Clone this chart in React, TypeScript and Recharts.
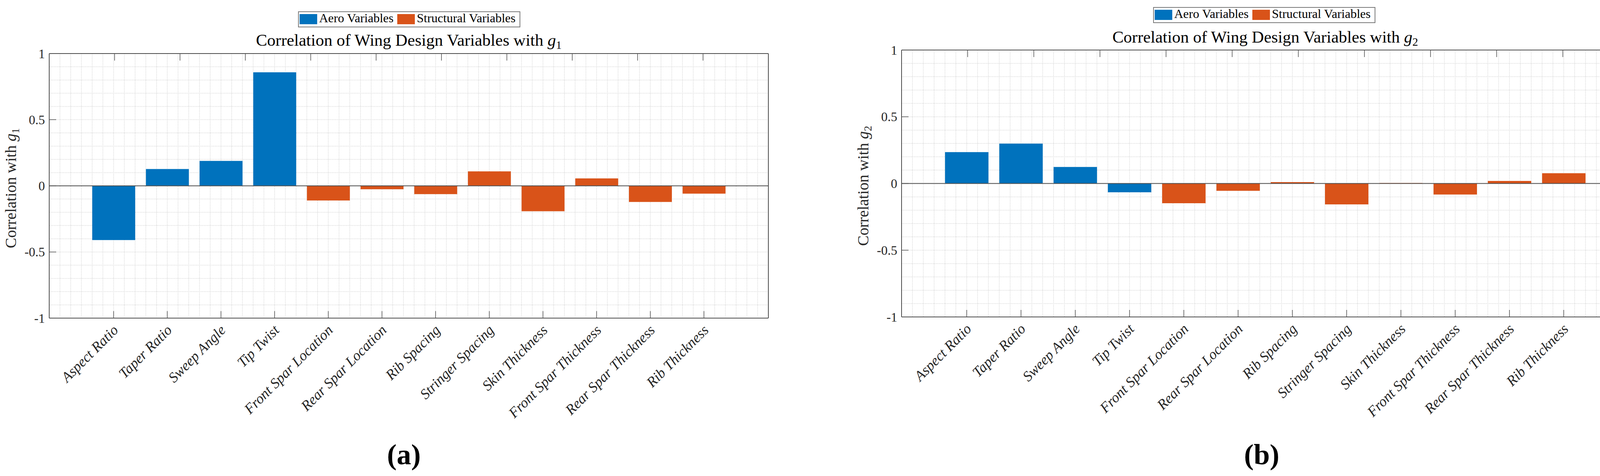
import React from 'react';
import { BarChart, Bar, Cell, XAxis, YAxis, CartesianGrid, ReferenceLine, Label } from 'recharts';

const W = 4187;
const H = 1218;
const AXIS = '#4d4d4d';
const GRID = '#d4d4d4';
const TEXT = '#262626';
const BLUE = '#0072BD';
const ORANGE = '#D95319';
const FONT = '"Liberation Serif", "Times New Roman", serif';

const X_MIN = -0.2;
const X_MAX = 13.2;
const TICK_LEN = 18;

// data
const categories = [
  'Aspect Ratio',
  'Taper Ratio',
  'Sweep Angle',
  'Tip Twist',
  'Front Spar Location',
  'Rear Spar Location',
  'Rib Spacing',
  'Stringer Spacing',
  'Skin Thickness',
  'Front Spar Thickness',
  'Rear Spar Thickness',
  'Rib Thickness',
];
const isAero = [true, true, true, true, false, false, false, false, false, false, false, false];
const corrG1 = [-0.41, 0.127, 0.188, 0.858, -0.111, -0.026, -0.063, 0.109, -0.192, 0.056, -0.122, -0.059];
const corrG2 = [0.235, 0.299, 0.124, -0.066, -0.148, -0.055, 0.01, -0.157, 0.004, -0.083, 0.019, 0.077];
const yTicks = [-1, -0.5, 0, 0.5, 1];
const legendLabels = ['Aero Variables', 'Structural Variables'];
const legendColors = [BLUE, ORANGE];

const xPositions = categories.map((_, i) => i + 1);

// minor grid every 0.2 in x, 0.1 in y
const gridX: number[] = [];
for (let k = 0; k <= 66; k++) gridX.push(Math.round(k * 2) / 10);
const gridY: number[] = [];
for (let k = -10; k <= 10; k++) gridY.push(k / 10);

type PanelSpec = {
  left: number;
  width: number;
  plotLeft: number;
  plotTop: number;
  plotRight: number;
  plotBottom: number;
  sub: string;
  values: number[];
  titleY: number;
  legendX: number;
  legendY: number;
  tag: string;
  tagX: number;
};

const panels: PanelSpec[] = [
  {
    left: 0, width: 2093, plotLeft: 126, plotTop: 137, plotRight: 1967, plotBottom: 814,
    sub: '1', values: corrG1, titleY: 117, legendX: 764, legendY: 30, tag: 'a', tagX: 1034,
  },
  {
    left: 2093, width: 2094, plotLeft: 2308, plotTop: 128, plotRight: 4170, plotBottom: 811,
    sub: '2', values: corrG2, titleY: 109, legendX: 2953, legendY: 19, tag: 'b', tagX: 3230,
  },
];

const BottomTick = (p: any) => {
  const { x, y, payload } = p;
  const name = categories[Math.round(payload.value) - 1];
  return (
    <g>
      <line x1={x} y1={y} x2={x} y2={y - TICK_LEN} stroke={AXIS} strokeWidth={1.5} />
      <text
        transform={`translate(${x + 14},${y + 33}) rotate(-45)`}
        textAnchor="end"
        fontFamily={FONT}
        fontStyle="italic"
        fontSize={37}
        fill={TEXT}
      >
        {name}
      </text>
    </g>
  );
};

const TopTick = (p: any) => {
  const { x, y } = p;
  return <line x1={x} y1={y} x2={x} y2={y + TICK_LEN} stroke={AXIS} strokeWidth={1.5} />;
};

const LeftTick = (p: any) => {
  const { x, y, payload } = p;
  return (
    <g>
      <line x1={x} y1={y} x2={x + TICK_LEN} y2={y} stroke={AXIS} strokeWidth={1.5} />
      <text x={x - 11} y={y} dy="0.35em" textAnchor="end" fontFamily={FONT} fontSize={33} fill={TEXT}>
        {String(payload.value)}
      </text>
    </g>
  );
};

const RightTick = (p: any) => {
  const { x, y } = p;
  return <line x1={x} y1={y} x2={x - TICK_LEN} y2={y} stroke={AXIS} strokeWidth={1.5} />;
};

const YLabel = ({ viewBox, sub }: any) => {
  const { x, y, width, height } = viewBox;
  const bx = x + width - 85;
  const cy = y + height / 2 + 6;
  return (
    <text
      transform={`translate(${bx},${cy}) rotate(-90)`}
      textAnchor="middle"
      fontFamily={FONT}
      fontSize={40}
      fill={TEXT}
    >
      {'Correlation with '}
      <tspan fontStyle="italic">g</tspan>
      <tspan fontSize={28} dy={8}>{sub}</tspan>
    </text>
  );
};

function Panel({ spec }: { spec: PanelSpec }) {
  const data = categories.map((name, i) => ({ x: i + 1, name, value: spec.values[i] }));
  const plotW = spec.plotRight - spec.plotLeft;
  const barSize = (0.8 * plotW) / (X_MAX - X_MIN);
  const yAxisW = 125;
  const bottomH = 300;
  const margin = {
    top: spec.plotTop - 1,
    right: spec.left + spec.width - spec.plotRight - 1,
    bottom: H - spec.plotBottom - bottomH,
    left: spec.plotLeft - spec.left - yAxisW,
  };
  const axisLine = { stroke: AXIS, strokeWidth: 2 };
  return (
    <div style={{ position: 'absolute', left: spec.left, top: 0 }}>
      <BarChart width={spec.width} height={H} data={data} margin={margin}>
        <CartesianGrid
          xAxisId="bottom"
          yAxisId="left"
          stroke={GRID}
          strokeWidth={1.5}
          strokeDasharray="2 2"
          verticalValues={gridX}
          horizontalValues={gridY}
        />
        <XAxis
          xAxisId="bottom"
          dataKey="x"
          type="number"
          domain={[X_MIN, X_MAX]}
          ticks={xPositions}
          interval={0}
          height={bottomH}
          tickLine={false}
          tickSize={0}
          tickMargin={0}
          axisLine={axisLine}
          tick={(p: any) => <BottomTick {...p} />}
        />
        <XAxis
          xAxisId="top"
          orientation="top"
          type="number"
          domain={[X_MIN, X_MAX]}
          ticks={xPositions}
          interval={0}
          height={1}
          tickLine={false}
          tickSize={0}
          tickMargin={0}
          axisLine={axisLine}
          tick={(p: any) => <TopTick {...p} />}
        />
        <YAxis
          yAxisId="left"
          type="number"
          domain={[-1, 1]}
          ticks={yTicks}
          interval={0}
          width={yAxisW}
          tickLine={false}
          tickSize={0}
          tickMargin={0}
          axisLine={axisLine}
          tick={(p: any) => <LeftTick {...p} />}
        >
          <Label content={(p: any) => <YLabel {...p} sub={spec.sub} />} />
        </YAxis>
        <YAxis
          yAxisId="right"
          orientation="right"
          type="number"
          domain={[-1, 1]}
          ticks={yTicks}
          interval={0}
          width={1}
          tickLine={false}
          tickSize={0}
          tickMargin={0}
          axisLine={axisLine}
          tick={(p: any) => <RightTick {...p} />}
        />
        <Bar xAxisId="bottom" yAxisId="left" dataKey="value" barSize={barSize} isAnimationActive={false}>
          {data.map((d, i) => (
            <Cell key={d.name} fill={isAero[i] ? BLUE : ORANGE} />
          ))}
        </Bar>
        <ReferenceLine xAxisId="bottom" yAxisId="left" y={0} stroke={AXIS} strokeWidth={2} />
      </BarChart>
    </div>
  );
}

function Annotations() {
  return (
    <svg width={W} height={H} style={{ position: 'absolute', left: 0, top: 0, pointerEvents: 'none' }}>
      {panels.map((p) => {
        const cx = (p.plotLeft + p.plotRight) / 2;
        const lx = p.legendX;
        const ly = p.legendY;
        return (
          <g key={p.tag}>
            <text x={cx} y={p.titleY} textAnchor="middle" fontFamily={FONT} fontSize={43} fill="#000">
              {'Correlation of Wing Design Variables with '}
              <tspan fontStyle="italic">g</tspan>
              <tspan fontSize={29} dy={8}>{p.sub}</tspan>
            </text>
            <rect x={lx} y={ly} width={567} height={39} fill="#fff" stroke="#7a7a7a" strokeWidth={2} />
            {legendLabels.map((label, i) => {
              const off = i === 0 ? 0 : 250;
              return (
                <g key={label}>
                  <rect x={lx + 3 + off} y={ly + 6} width={45} height={26} fill={legendColors[i]} />
                  <text x={lx + 53 + off} y={ly + 27} fontFamily={FONT} fontSize={32} fill="#000">
                    {label}
                  </text>
                </g>
              );
            })}
            <text x={p.tagX} y={1188} textAnchor="middle" fontFamily={FONT} fontWeight="bold" fontSize={74} fill="#000">
              ({p.tag})
            </text>
          </g>
        );
      })}
    </svg>
  );
}

export default function App() {
  return (
    <div style={{ position: 'absolute', left: 0, top: 0, width: W, height: H, background: '#fff' }}>
      {panels.map((p) => (
        <Panel key={p.tag} spec={p} />
      ))}
      <Annotations />
    </div>
  );
}
